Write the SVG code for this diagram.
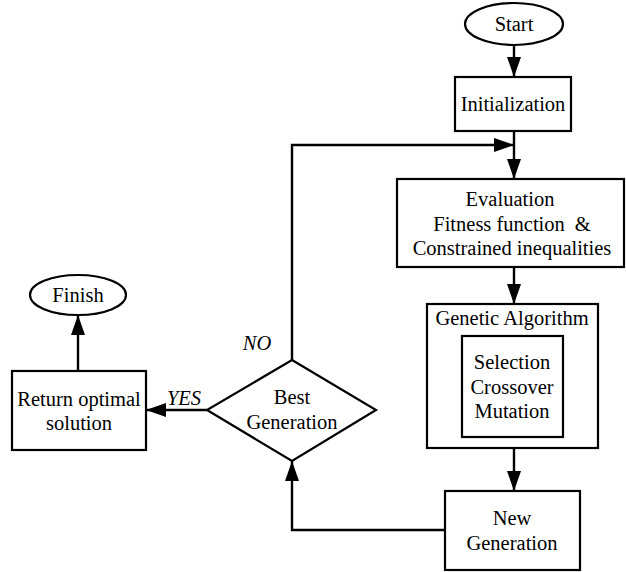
<svg xmlns="http://www.w3.org/2000/svg" width="626" height="572" viewBox="0 0 626 572">
<style>
.s{fill:#fff;stroke:#000;stroke-width:2.2}
.t{font-family:"Liberation Serif","Times New Roman",serif;font-size:20.5px;fill:#000;text-anchor:middle;dominant-baseline:central}
.i{font-style:italic}
.c{fill:none;stroke:#000;stroke-width:2.4}
</style>
<defs>
<marker id="ah" markerWidth="20" markerHeight="14" refX="20" refY="7" orient="auto" markerUnits="userSpaceOnUse">
<path d="M0,0 L20,7 L0,14 z" fill="#000"/>
</marker>
</defs>
<rect width="626" height="572" fill="#fff"/>
<g id="connectors">
<path class="c" d="M514,45 L514,77" marker-end="url(#ah)"/>
<path class="c" d="M514,131 L514,179" marker-end="url(#ah)"/>
<path class="c" d="M292,360 L292,145 L514,145" marker-end="url(#ah)"/>
<path class="c" d="M514,267 L514,304" marker-end="url(#ah)"/>
<path class="c" d="M514,448 L514,491" marker-end="url(#ah)"/>
<path class="c" d="M445,530 L292,530 L292,461" marker-end="url(#ah)"/>
<path class="c" d="M207,410 L146,410" marker-end="url(#ah)"/>
<path class="c" d="M78,371 L78,315" marker-end="url(#ah)"/>
<text class="t i" x="257" y="343">NO</text>
<text class="t i" x="184" y="398">YES</text>
</g>
<g id="start">
<ellipse class="s" cx="514" cy="24" rx="49" ry="21"/>
<text class="t" x="514" y="24">Start</text>
</g>
<g id="init">
<rect class="s" x="455" y="77" width="116" height="54"/>
<text class="t" x="513" y="104">Initialization</text>
</g>
<g id="eval">
<rect class="s" x="397" y="179" width="227" height="88"/>
<text class="t" x="510" y="199">Evaluation</text>
<text class="t" x="512" y="224">Fitness function<tspan dx="10">&amp;</tspan></text>
<text class="t" x="512" y="248">Constrained inequalities</text>
</g>
<g id="ga">
<rect class="s" x="427" y="304" width="171" height="144"/>
<text class="t" x="512" y="318">Genetic Algorithm</text>
</g>
<g id="ops">
<rect class="s" x="462" y="336" width="101" height="101"/>
<text class="t" x="512" y="362">Selection</text>
<text class="t" x="512" y="387">Crossover</text>
<text class="t" x="512" y="411">Mutation</text>
</g>
<g id="newgen">
<rect class="s" x="445" y="491" width="135" height="79"/>
<text class="t" x="512" y="518">New</text>
<text class="t" x="512" y="543">Generation</text>
</g>
<g id="best">
<polygon class="s" points="292,360 376,410 292,461 207,410"/>
<text class="t" x="292" y="397">Best</text>
<text class="t" x="292" y="422">Generation</text>
</g>
<g id="return">
<rect class="s" x="12" y="371" width="134" height="79"/>
<text class="t" x="79" y="399">Return optimal</text>
<text class="t" x="79" y="423">solution</text>
</g>
<g id="finish">
<ellipse class="s" cx="78" cy="295" rx="48" ry="20"/>
<text class="t" x="78" y="295">Finish</text>
</g>
</svg>
